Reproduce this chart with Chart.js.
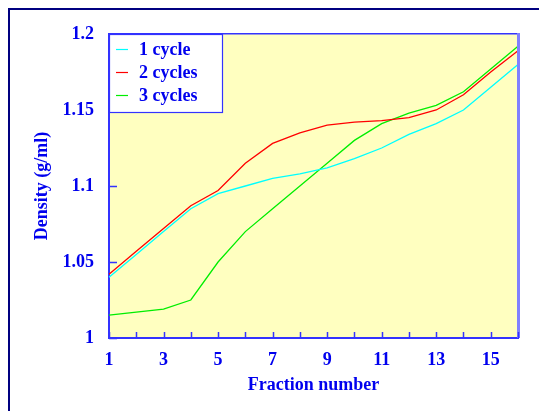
<!DOCTYPE html>
<html>
<head>
<meta charset="utf-8">
<script src="https://cdn.jsdelivr.net/npm/chart.js@4.4.0/dist/chart.umd.min.js"></script>
<style>
html,body{margin:0;padding:0;background:#fff;}
#wrap{position:relative;width:539px;height:411px;}
</style>
</head>
<body>
<div id="wrap"><canvas id="c" width="539" height="411"></canvas></div>
<script>
const fractions = [1,2,3,4,5,6,7,8,9,10,11,12,13,14,15,16];
const xTickLabels = ['1','','3','','5','','7','','9','','11','','13','','15',''];
const yTickLabels = ['1','1.05','1.1','1.15','1.2'];
const seriesNames = ['1 cycle','2 cycles','3 cycles'];
const cycle1 = [1.040,1.055,1.070,1.085,1.095,1.100,1.105,1.108,1.112,1.118,1.125,1.134,1.141,1.150,1.165,1.180];
const cycle2 = [1.042,1.057,1.072,1.087,1.097,1.115,1.128,1.135,1.140,1.142,1.143,1.145,1.150,1.160,1.175,1.189];
const cycle3 = [1.015,1.017,1.019,1.025,1.050,1.070,1.085,1.100,1.115,1.130,1.141,1.148,1.153,1.162,1.177,1.192];
const colors = ['#00ffff','#ff0000','#00ee00'];

const BLUE = '#0000ee';
const FONT = '"Liberation Serif", "Times New Roman", serif';
const FS = 18;

const framePlugin = {
  id: 'frame',
  beforeDraw(chart) {
    const ctx = chart.ctx, a = chart.chartArea;
    ctx.save();
    ctx.fillStyle = '#000080';
    ctx.fillRect(8, 8, 539, 2);
    ctx.fillRect(8, 8, 2, 411);
    ctx.fillStyle = '#ffffc0';
    ctx.fillRect(a.left, a.top, a.right - a.left, a.bottom - a.top);
    ctx.restore();
  },
  afterDatasetsDraw(chart) {
    const ctx = chart.ctx, a = chart.chartArea;
    ctx.save();
    ctx.fillStyle = '#3333ff';
    ctx.fillRect(a.left, a.top - 1, a.right - a.left, 1.5);
    ctx.fillStyle = '#8080ff';
    ctx.fillRect(a.right - 1, a.top - 1, 3, a.bottom - a.top + 1);
    ctx.strokeStyle = '#3333ff';
    ctx.lineWidth = 1.5;
    const xs = chart.scales.x, ys = chart.scales.y;
    ctx.beginPath();
    xs.ticks.forEach((t, i) => {
      const px = Math.round(xs.getPixelForTick(i)) + 0.5;
      ctx.moveTo(px, a.bottom);
      ctx.lineTo(px, a.bottom - 6);
    });
    ys.ticks.forEach((t, i) => {
      const py = Math.round(ys.getPixelForTick(i)) + 0.5;
      ctx.moveTo(a.left, py);
      ctx.lineTo(a.left + 8, py);
    });
    ctx.stroke();
    const lx = a.left, ly = a.top, lw = 113, lh = 78;
    ctx.fillStyle = '#ffffff';
    ctx.fillRect(lx, ly, lw, lh);
    ctx.strokeStyle = '#3333ff';
    ctx.lineWidth = 1.2;
    ctx.strokeRect(lx + 0.5, ly + 0.5, lw, lh);
    ctx.font = 'bold ' + FS + 'px ' + FONT;
    ctx.textBaseline = 'middle';
    ctx.textAlign = 'left';
    chart.data.datasets.forEach((ds, i) => {
      const cy = ly + 15.5 + i * 23;
      ctx.strokeStyle = ds.borderColor;
      ctx.lineWidth = 1.2;
      ctx.beginPath();
      ctx.moveTo(lx + 7, cy);
      ctx.lineTo(lx + 19, cy);
      ctx.stroke();
      ctx.fillStyle = BLUE;
      ctx.fillText(ds.label, lx + 30, cy + 1);
    });
    ctx.restore();
  }
};

new Chart(document.getElementById('c'), {
  type: 'line',
  data: {
    labels: fractions,
    datasets: [
      {label: seriesNames[0], data: cycle1, borderColor: colors[0]},
      {label: seriesNames[1], data: cycle2, borderColor: colors[1]},
      {label: seriesNames[2], data: cycle3, borderColor: colors[2]}
    ].map(d => Object.assign(d, {borderWidth: 1.3, pointRadius: 0, tension: 0, fill: false}))
  },
  options: {
    responsive: false,
    animation: false,
    devicePixelRatio: 1,
    layout: {padding: {left: 0, top: 34, right: 21, bottom: 0}},
    plugins: {legend: {display: false}, tooltip: {enabled: false}},
    scales: {
      x: {
        type: 'category',
        offset: false,
        grid: {display: false, drawTicks: false},
        border: {display: true, color: '#3333ff', width: 2},
        ticks: {
          autoSkip: false, maxRotation: 0, padding: 12,
          color: BLUE, font: {family: FONT, size: FS, weight: 'bold'},
          callback: (v, i) => xTickLabels[i]
        },
        title: {display: true, text: 'Fraction number', color: BLUE,
          font: {family: FONT, size: FS, weight: 'bold'}, padding: {top: 0, bottom: 15}},
        afterFit: s => { s.height = 73; }
      },
      y: {
        min: 1, max: 1.2,
        grid: {display: false, drawTicks: false},
        border: {display: true, color: '#3333ff', width: 2},
        ticks: {
          stepSize: 0.05, padding: 15,
          color: BLUE, font: {family: FONT, size: FS, weight: 'bold'},
          callback: (v, i) => yTickLabels[i]
        },
        title: {display: true, text: 'Density (g/ml)', color: BLUE,
          font: {family: FONT, size: FS, weight: 'bold'}, padding: {top: 32, bottom: 0}},
        afterFit: s => { s.width = 109; }
      }
    }
  },
  plugins: [framePlugin]
});
</script>
</body>
</html>
